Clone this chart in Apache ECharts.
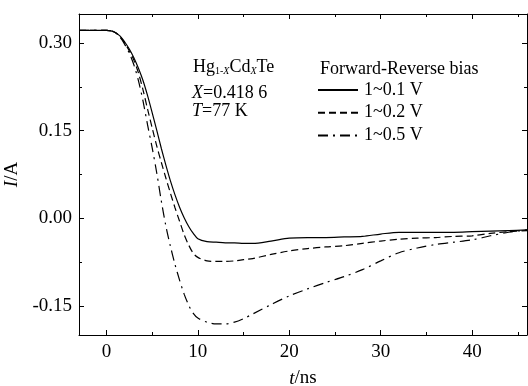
<!DOCTYPE html>
<html>
<head>
<meta charset="utf-8">
<script src="https://cdn.jsdelivr.net/npm/echarts@6/dist/echarts.min.js"></script>
<style>
html,body{margin:0;padding:0;background:#fff;}
#c{width:528px;height:386px;}
</style>
</head>
<body>
<div id="c"></div>
<script>
// ---- data ----
const tNs = [-3,0,0.5,1,1.5,2,2.5,3,3.5,4,4.5,5,5.5,6,6.5,7,7.5,8,8.5,9,9.5,10,11,12,13,14,15,16,18,20,22,24,26,28,30,32,34,36,38,40,42,44,46];
const i01 = [0.322,0.322,0.321,0.318,0.312,0.302,0.290,0.275,0.257,0.236,0.210,0.181,0.151,0.120,0.091,0.064,0.040,0.019,0.001,-0.014,-0.026,-0.035,-0.040,-0.041,-0.042,-0.042,-0.043,-0.043,-0.039,-0.034,-0.033,-0.033,-0.032,-0.031,-0.027,-0.024,-0.024,-0.024,-0.024,-0.023,-0.022,-0.021,-0.020];
const i02 = [0.322,0.322,0.321,0.318,0.311,0.300,0.287,0.271,0.249,0.220,0.187,0.155,0.124,0.096,0.069,0.043,0.018,-0.005,-0.028,-0.046,-0.060,-0.067,-0.073,-0.074,-0.074,-0.073,-0.071,-0.069,-0.062,-0.056,-0.052,-0.049,-0.047,-0.043,-0.039,-0.036,-0.034,-0.033,-0.031,-0.030,-0.026,-0.023,-0.021];
const i05 = [0.322,0.322,0.321,0.318,0.310,0.298,0.283,0.263,0.236,0.201,0.160,0.121,0.078,0.030,-0.013,-0.048,-0.079,-0.106,-0.130,-0.149,-0.163,-0.171,-0.178,-0.181,-0.181,-0.178,-0.172,-0.164,-0.148,-0.133,-0.121,-0.110,-0.100,-0.088,-0.073,-0.059,-0.051,-0.045,-0.041,-0.037,-0.030,-0.024,-0.020];
const seriesNames = ['1~0.1 V','1~0.2 V','1~0.5 V'];
const xMajor = [0,10,20,30,40];
const xMinor = [5,15,25,35,45];
const yMajor = [-0.15,0,0.15,0.30];
const yMinor = [-0.075,0.075,0.225];

const FONT = '"Liberation Serif","Times New Roman",serif';
const X_MIN = -3, X_MAX = 46, Y_MIN = -0.2, Y_MAX = 0.35;

function pair(ys){ return tNs.map((t,k)=>[t, ys[k]]); }

function xAx(pos, ticks, len, main){
  return {
    type:'value', position:pos, min:X_MIN, max:X_MAX, gridIndex:0,
    axisLine:{show:main, onZero:false, lineStyle:{color:'#000',width:1}},
    axisTick:{show:true, inside:true, length:len, customValues:ticks, lineStyle:{color:'#000',width:1}},
    axisLabel:{show: main && pos==='bottom', customValues:ticks, margin:8, color:'#000', fontFamily:FONT, fontSize:19},
    splitLine:{show:false},
    name: (main && pos==='bottom') ? '{i|t}/ns' : '',
    nameLocation:'middle', nameGap:34,
    nameTextStyle:{color:'#000', fontFamily:FONT, fontSize:19, rich:{i:{fontStyle:'italic', fontFamily:FONT, fontSize:19, color:'#000'}}}
  };
}
function yAx(pos, ticks, len, main){
  return {
    type:'value', position:pos, min:Y_MIN, max:Y_MAX, gridIndex:0,
    axisLine:{show:main, onZero:false, lineStyle:{color:'#000',width:1}},
    axisTick:{show:true, inside:true, length:len, customValues:ticks, lineStyle:{color:'#000',width:1}},
    axisLabel:{show: main && pos==='left', customValues:ticks, margin:7, color:'#000', fontFamily:FONT, fontSize:19,
      formatter:(v)=>v.toFixed(2)},
    splitLine:{show:false},
    name: (main && pos==='left') ? '{i|I}/A' : '',
    nameLocation:'middle', nameGap:48, nameRotate:90,
    nameTextStyle:{color:'#000', fontFamily:FONT, fontSize:19, rich:{i:{fontStyle:'italic', fontFamily:FONT, fontSize:19, color:'#000'}}}
  };
}

const lineW = 1.2;
const option = {
  animation:false,
  backgroundColor:'#fff',
  grid:{left:79, top:14, right:1, bottom:51, containLabel:false, outerBoundsMode:'none'},
  xAxis:[xAx('bottom',xMajor,5,true), xAx('bottom',xMinor,3,false), xAx('top',xMajor,5,true), xAx('top',xMinor,3,false)],
  yAxis:[yAx('left',yMajor,5,true), yAx('left',yMinor,3,false), yAx('right',yMajor,5,true), yAx('right',yMinor,3,false)],
  legend:{
    orient:'vertical', left:312, top:76, itemWidth:40, itemHeight:14, itemGap:4.7,
    itemStyle:{opacity:0},
    textStyle:{color:'#000', fontFamily:FONT, fontSize:18, padding:[0,0,0,1]},
    data:seriesNames
  },
  graphic:[
    {type:'text', left:320, top:60, style:{text:'Forward-Reverse bias', fill:'#000', font:'18px '+FONT}},
    {type:'text', left:193, top:58, style:{
      text:'{n|Hg}{s|1-}{si|X}{n|Cd}{si|X}{n|Te}',
      rich:{
        n:{fontFamily:FONT, fontSize:18, fill:'#000', lineHeight:20, verticalAlign:'bottom'},
        s:{fontFamily:FONT, fontSize:10, fill:'#000', lineHeight:10, verticalAlign:'bottom'},
        si:{fontFamily:FONT, fontSize:10, fontStyle:'italic', fill:'#000', lineHeight:10, verticalAlign:'bottom'}
      }}},
    {type:'text', left:192, top:84, style:{
      text:'{i|X}{n|=0.418 6}',
      rich:{n:{fontFamily:FONT, fontSize:18, fill:'#000'}, i:{fontFamily:FONT, fontSize:18, fontStyle:'italic', fill:'#000'}}}},
    {type:'text', left:192, top:102, style:{
      text:'{i|T}{n|=77 K}',
      rich:{n:{fontFamily:FONT, fontSize:18, fill:'#000'}, i:{fontFamily:FONT, fontSize:18, fontStyle:'italic', fill:'#000'}}}}
  ],
  series:[
    {name:seriesNames[0], type:'line', xAxisIndex:0, yAxisIndex:0, data:pair(i01), symbol:'none', smooth:0.3,
     lineStyle:{color:'#000', width:lineW, type:'solid'}, itemStyle:{color:'#000'}},
    {name:seriesNames[1], type:'line', xAxisIndex:0, yAxisIndex:0, data:pair(i02), symbol:'none', smooth:0.3,
     lineStyle:{color:'#000', width:lineW, type:[7,4]}, itemStyle:{color:'#000'}},
    {name:seriesNames[2], type:'line', xAxisIndex:0, yAxisIndex:0, data:pair(i05), symbol:'none', smooth:0.3,
     lineStyle:{color:'#000', width:lineW, type:[10,5,2,5]}, itemStyle:{color:'#000'}}
  ]
};
const chart = echarts.init(document.getElementById('c'), null, {renderer:'canvas'});
chart.setOption(option);
</script>
</body>
</html>
